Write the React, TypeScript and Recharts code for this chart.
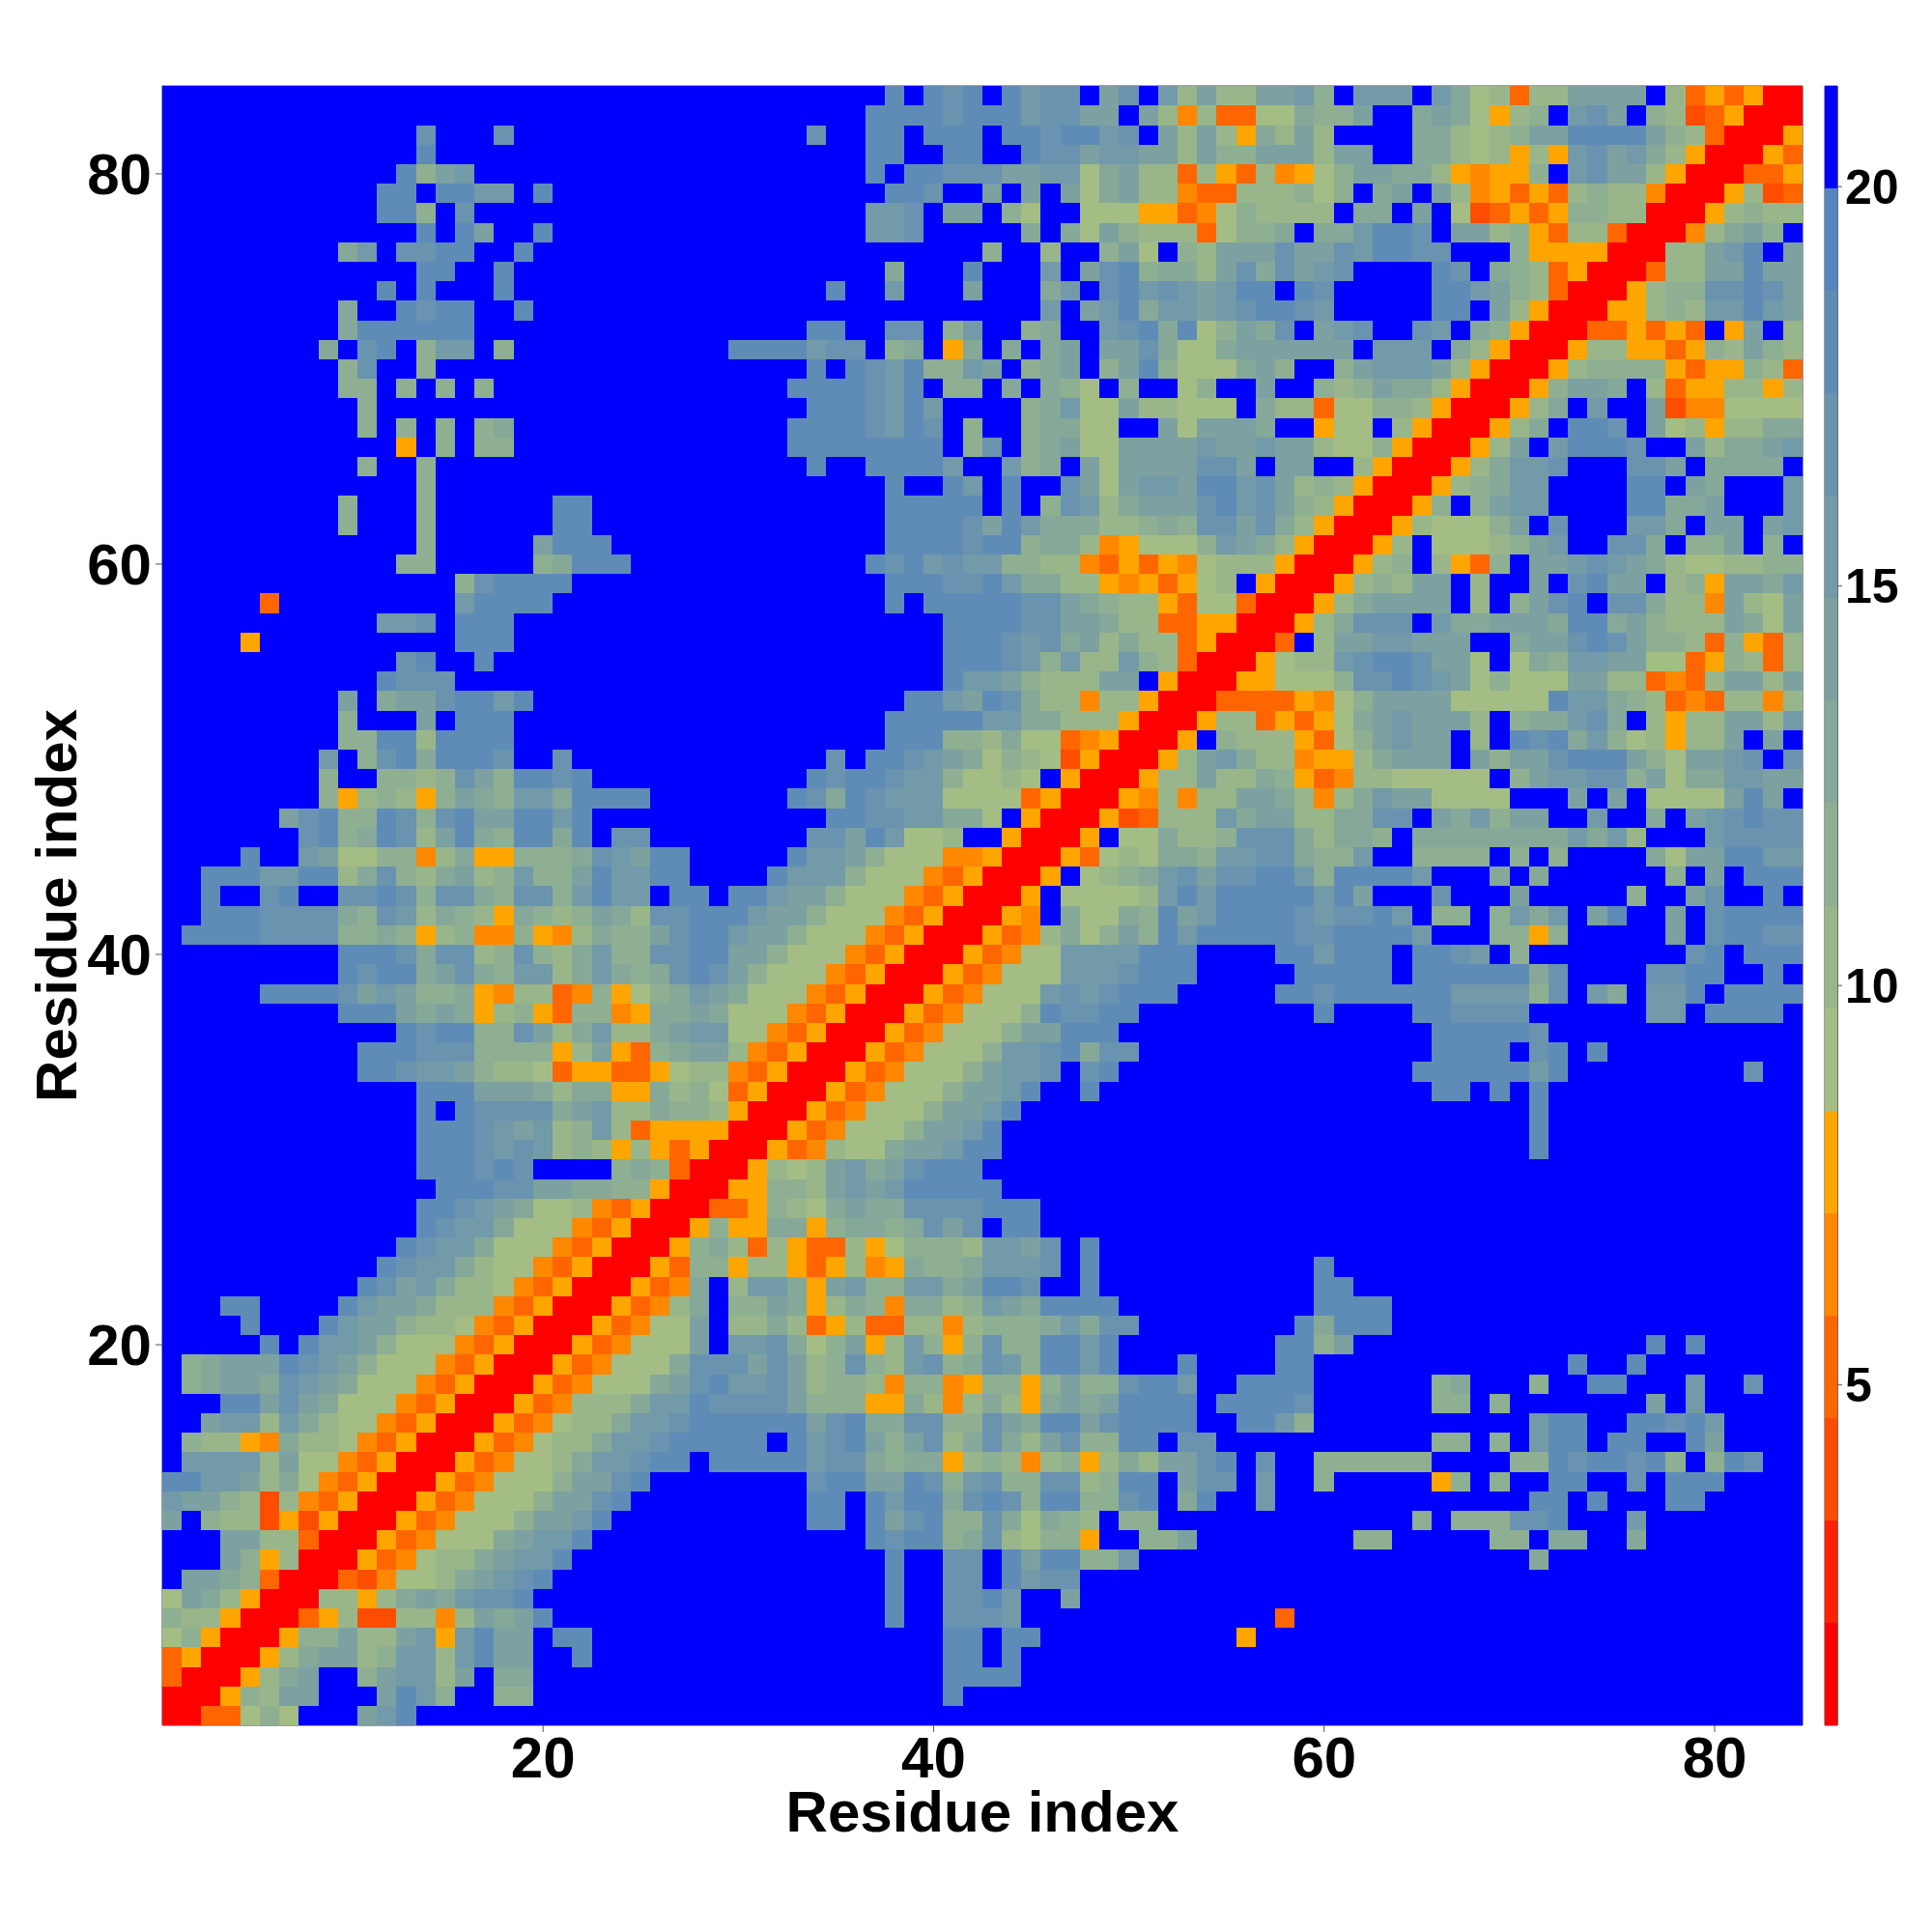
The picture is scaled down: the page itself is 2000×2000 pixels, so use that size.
import React from 'react';
import { ScatterChart, Scatter, XAxis, YAxis, ReferenceArea } from 'recharts';

// One string per residue r: the distance band of residues (x, r) for x = r, r+1, ... ; the map is symmetric.
// 0-5 warm bands, 6-e green to steel, f = top band. Missing trailing cells are top band.
const rowsA: string[] = [
  '0033686fff abdfffffff',
  '00587aaff fadb8ff88f ffffffffff ffffffffff d',
  '00579aff 8abb7af99f ffffffffff ffffffffff dddd',
  '00579aa 78bb7bdaaf fdffffffff ffffffffff ddfd',
  '00588a 77ab5bdaaf ddffffffff ffffffffff ddfddfffff fffff5ffff',
  '00357 22774 7a9ad ffffffffff fffffffdff cccbffffff fffffff3ff',
  '0077 579a9bccdf ffffffffff fffffffdff ccdbffafff',
  '003 24667 9abcd ffffffffff fffffffdff ccfdbccfff',
  '00 5346779abb dfffffffff fffffffdff ccfdadd88b ffffffffff ffffffffff 9fffffffff',
  '0 0534666 9ab bdffffffff ffffffdcdd 89c76885ff 88afffffff f88fffff88 f99ff9ffff',
  '00534 666 8a abdfffffff fffddfdacd 88c96987f8 8fffffffff ffff8f888c cdfffbffff',
  '00534 666 8 aacdffffff fffddfdbdd 9cdc8dd88c df9dffbfff ffffffffff ddfdfffddf',
  '00534666 8aacdfffff fffcddaadc 8bc88cc78d dfaccfbff8 fffff58f8f fddffcfddd',
  '0053466 79bbcddfdd dddbcc9899 5787478579 7aacdfcff8 88888ffff8 8dcddcd8f8 dcff',
  '005346 779bbcdddd dfdbcda8ac 79c97ac88d dfccffffff fffff88f8f bddfddffda',
  '00534 6779bbcddd dddacd99cc 88ca9ddacd dddffddb8f ffffffffff bddffddcdb',
  '0053 47779bbdcc cca8885597 479759a9ad dddfddddcf fffff88f8f ffffffafbf',
  '005 346669acdb bca7887488 458858a88c ddbffddddf fffff89fff 8ffddfffbf fcff',
  '00 5346669ccc aca78c87bc 89cb8ddbdf ffdffffddf ffffffffff ffdffdffff',
  '0 0534666afb bc968a57b8 58c88ddbdf fffffffdd8 afffffffff ffffffdfdf',
  '0053466af7 7973573377 478889b9cc ffffffffd9 dddfffffff',
  '0053479f8 8a95798499 78ba9ddddf fffffffffd dddfffffff',
  '005349f7 bb95ab88bb 9addcffdff fffffffffd dfffffffff',
  '0053885 7753574598 89bbbcfdff fffffffffd',
  '005897 3753375688 87bbacfdff',
  '00585 599589989c acfddfffff',
  '0033 58769a99cc ccdddfffff',
  '005 5887ababdd dddfffffff',
  '00 5767ab9acd ddffffffff',
  '0 05347669aa bddfffffff ffffffffff ffffffffff d',
];
const rowsB: string[] = [
  '0053466 68a abdfffffff ffffffffff ffffffffff d',
  '005346668 aabdffffff ffffffffff ffffffffff d',
  '00534666 8aabdffdff ffffffffff fffffddfdf dfffffffff',
  '0053466 68abbcfcdf ffffffffff ffffdddddd bdffffffff fcff',
  '005346 668bbcd9cc ffffffffff fffffddddf cdfdffffff',
  '00534 6668aadddf ffffffffff fffffddddd c',
  '0053 46668dccdd fffffffffd ffffddcccc ffffffbbfd dddf',
  '005 34666bcbcd ddfffffddc ddddddbbbb 8cfb9fbbdf dddd',
  '00 534666bbbc dddfffffdd dddfdddddd 9cffffccdd ffdf',
  '0 053466bbbb dddffffddb dddfddcbf8 ffffffffcd fddd',
  '005347968a 8dbdddddcc ddddbfff88 58fffffafc ddcc',
  '0054f9669 8dabddddcb ccdbf88f8b 9bfadffafc dddd',
  '005f6666 7bdbdddddb dafffcfffa fffff8ffac ffdf',
  '005f678 9bcaccddb8 ddddbfff9f 9ffffff8fa fddd',
  '005367 6998bbcc98 8bff8888f8 f8ffff96aa ddbb',
  '005f6 69778ccc97 998f999999 99b9b7fffb cccc',
  '0052 3777b9aa77 99ccfa9b8a affbff9fab cdcc',
  '005 47477aa974 79baa6666f ffafaf6666 adaf',
  '00 577a779853 47766666f8 abbcc8a699 bbaa',
  '0 057ab97745 579aaafa8a acddda86aa bcfc',
];
const rowsC: string[] = [
  '005f877753 68abaaf7fd cd9b867577 afaf',
  '005773535 69abaaa7f8 99bc9f7577 aa7b',
  '00333354 68aaaa6666 6dbb987343 7747',
  '0055666 8ccdcba686 66aa773437 aa7a',
  '005677 bcddcaa6f6 98bbaa6635 8737',
  '003f7 aabbaaaff9 aacdca8873 8537',
  '0057 9cccfb99aa a9dd9a8777 a96a',
  '005 79aaaaf7f8 acdfcc9774 a76a',
  '00 5787aaf7ff afcdaaf785 aa9b',
  '0 0578f7538f aabcba9766 7788',
  '0057f66678 abffcc9f88 af8f',
  '005766 68a fcfffbb9fa afab',
  '0058f8ab bffffdd99a fffb',
  '005789b bffffddfa9 fffb',
  '00579b bcfffccaf9 999f',
  '0057a fbdddcffa7 99ab',
  '0057 9fddcfa675 7799',
  '005 79fbffa244 6666',
  '00 58aa9f7355 7757',
  '0 0578888535 5873',
  '0057755358 7a87',
  '00335353f 5af7',
  '0055787b bdba',
  '005788c cdca',
  '00377a adaa',
  '0077a bdfa',
  '0047 9a8f',
  '005 7877',
  '00 5723',
  '0 0335',
  '0053',
  '005',
  '00',
  '0',
];
const rowStrings = [...rowsA, ...rowsB, ...rowsC];

const bandColors: string[] = [
  '#ff0000', '#ff2200', '#ff4d00', '#ff6600', '#ff8800', '#ffa500',
  '#a3bd84', '#99b68b', '#8faf92', '#86a899', '#7ca1a0', '#729aa8', '#6993af', '#5f8cb6', '#5585bd', '#0000ff',
];
const axisTicks = [20, 40, 60, 80];
const barTicks = [5, 10, 15, 20];
const barDomain: [number, number] = [0.74, 21.26];
const N = 84;

type Cell = { x: number; y: number; level: number };
const cells: Cell[] = [];
rowStrings.forEach((raw, ri) => {
  const s = raw.replace(/ /g, '');
  const r = ri + 1;
  for (let x = r; x <= N; x++) {
    const ch = s[x - r];
    const level = ch === undefined ? 15 : parseInt(ch, 16);
    cells.push({ x, y: r, level });
    if (x !== r) cells.push({ x: r, y: x, level });
  }
});
const bandStep = (barDomain[1] - barDomain[0]) / bandColors.length;
const bands = bandColors.map((_, i) => ({ x: 0.5, y: barDomain[0] + bandStep * (i + 0.5), level: i }));

const FONT = '"Liberation Sans", Arial, sans-serif';
const PLOT_W = 1698;
const PLOT_H = 1697;
const CELL_W = PLOT_W / N + 0.4;
const CELL_H = PLOT_H / N + 0.4;

const CellShape = (p: any) => (
  <rect
    x={p.cx - CELL_W / 2}
    y={p.cy - CELL_H / 2}
    width={CELL_W}
    height={CELL_H}
    fill={bandColors[p.payload.level]}
    shapeRendering="crispEdges"
  />
);
const BandShape = (p: any) => (
  <rect
    x={p.cx - 6.5}
    y={p.cy - PLOT_H / 32}
    width={13}
    height={PLOT_H / 16}
    fill={bandColors[p.payload.level]}
    shapeRendering="crispEdges"
  />
);

const tickStyle = { fontSize: 60, fontWeight: 700, fontFamily: FONT, fill: '#000' };
const titleStyle = { fontSize: 60, fontWeight: 700, fontFamily: FONT, fill: '#000' };
const frame = '#3a3a3a';
const tickLine = { stroke: '#555', strokeWidth: 1 };
const blank = () => '';

export default function App() {
  return (
    <div style={{ position: 'absolute', left: 0, top: 0, width: 2000, height: 2000, background: '#fff' }}>
      <div style={{ position: 'absolute', left: 0, top: 0 }}>
        <ScatterChart width={1880} height={2000} margin={{ left: 0, right: 0, top: 0, bottom: 0 }}>
          <XAxis
            dataKey="x" type="number" domain={[0.5, 84.5]} ticks={axisTicks} height={214}
            allowDataOverflow interval={0} axisLine={{ stroke: frame }} tickLine={tickLine} tickSize={7} tickMargin={4}
            tick={tickStyle}
            label={{ value: 'Residue index', position: 'insideBottom', offset: 104, style: titleStyle }}
          />
          <XAxis
            xAxisId="top" orientation="top" type="number" domain={[0.5, 84.5]} ticks={axisTicks} height={89}
            interval={0} axisLine={{ stroke: frame }} tickLine={tickLine} tickSize={7} tickFormatter={blank}
          />
          <YAxis
            dataKey="y" type="number" domain={[0.5, 84.5]} ticks={axisTicks} width={168}
            allowDataOverflow interval={0} axisLine={{ stroke: frame }} tickLine={tickLine} tickSize={7} tickMargin={4}
            tick={tickStyle}
            label={{ value: 'Residue index', position: 'insideLeft', angle: -90, offset: 58, style: { ...titleStyle, textAnchor: 'middle' } }}
          />
          <YAxis
            yAxisId="right" orientation="right" type="number" domain={[0.5, 84.5]} ticks={axisTicks} width={14}
            interval={0} axisLine={{ stroke: frame }} tickLine={tickLine} tickSize={7} tickFormatter={blank}
          />
          <Scatter data={cells} shape={CellShape} isAnimationActive={false} />
        </ScatterChart>
      </div>
      <div style={{ position: 'absolute', left: 1880, top: 0 }}>
        <ScatterChart width={120} height={2000} margin={{ left: 9, right: 0, top: 89, bottom: 214 }}>
          <XAxis dataKey="x" type="number" domain={[0, 1]} hide />
          <YAxis
            dataKey="y" type="number" orientation="right" domain={barDomain} ticks={barTicks} width={98}
            allowDataOverflow interval={0} axisLine={{ stroke: frame }} tickLine={tickLine} tickSize={5} tickMargin={3}
            tick={{ ...tickStyle, fontSize: 50 }}
          />
          <Scatter data={bands} shape={BandShape} isAnimationActive={false} />
          <ReferenceArea y1={barDomain[0]} y2={barDomain[1]} fill="none" stroke={frame} strokeWidth={1} ifOverflow="visible" />
        </ScatterChart>
      </div>
    </div>
  );
}
